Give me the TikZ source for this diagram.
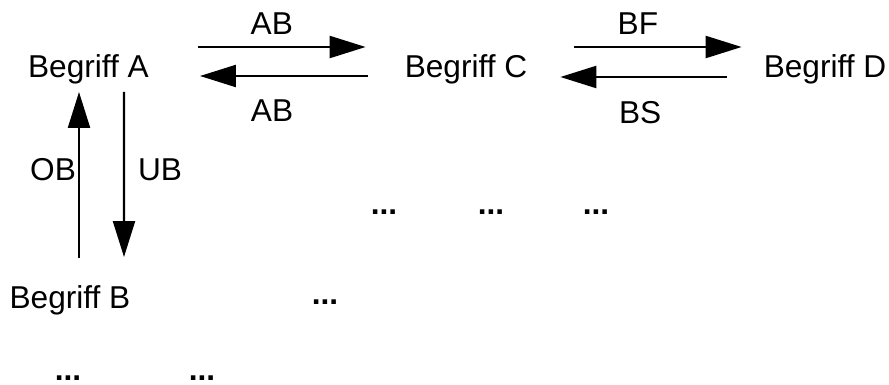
\documentclass[tikz,border=0pt]{standalone}
\usepackage{fontspec}
\setmainfont{Liberation Sans}
\usetikzlibrary{arrows.meta,calc}

\begin{document}
\begin{tikzpicture}[x=0.02cm, y=-0.02cm, line width=1.3pt,
  every node/.style={font=\fontsize{18}{21}\selectfont, inner sep=0pt},
  begriff/.style={anchor=base},
  punkte/.style={anchor=base, font=\fontsize{18}{21}\selectfont\bfseries},
  pfeil/.style={-{Triangle[length=0.72cm, width=0.44cm]}}]

\useasboundingbox (0,0) rectangle (889,385);

% begriffe
\node[begriff] (A) at (88.5,78) {Begriff A};
\node[begriff] (C) at (466,78) {Begriff C};
\node[begriff] (D) at (825,78) {Begriff D};
\node[begriff] (B) at (70,308) {Begriff B};

% punkte
\node[punkte] (p1) at (384,214) {...};
\node[punkte] (p2) at (491,214) {...};
\node[punkte] (p3) at (596,214) {...};
\node[punkte] (p4) at (325,304) {...};
\node[punkte] (p5) at (68,380) {...};
\node[punkte] (p6) at (202,380) {...};

% A <-> C
\draw[pfeil] ($(A.base east)+(48,-31)$) -- node[pos=0.44, above=0.22cm] {AB} ($(C.base west)+(-38,-31)$);
\draw[pfeil] ($(C.base west)+(-36,-2)$) -- node[pos=0.57, below=0.46cm] {AB} ($(A.base east)+(50,-2)$);

% C <-> D
\draw[pfeil] ($(C.base east)+(46,-31)$) -- node[pos=0.38, above=0.22cm] {BF} ($(D.base west)+(-21,-31)$);
\draw[pfeil] ($(D.base west)+(-36,-1)$) -- node[pos=0.52, below=0.46cm] {BS} ($(C.base east)+(32,-1)$);

% A <-> B
\draw[pfeil] ($(B.base)+(9,-50)$) -- node[pos=0.53, left=0.04cm] {OB} ($(A.base)+(-9.5,14)$);
\draw[pfeil] ($(A.base)+(35.5,14)$) -- node[pos=0.47, right=0.26cm] {UB} ($(B.base)+(54,-51)$);

\end{tikzpicture}
\end{document}
